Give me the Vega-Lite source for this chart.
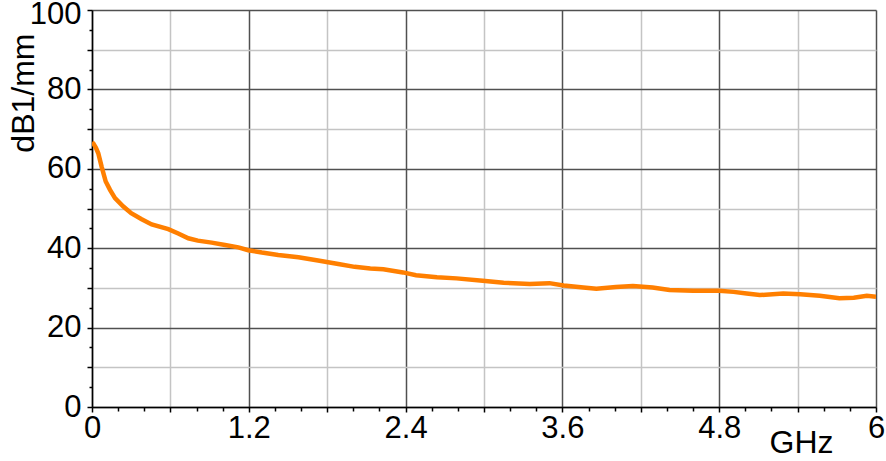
{
  "$schema": "https://vega.github.io/schema/vega-lite/v6.json",
  "width": 784,
  "height": 397,
  "autosize": {"type": "none"},
  "padding": {"left": 92, "top": 10, "right": 10, "bottom": 54},
  "background": "white",
  "config": {
    "view": {"stroke": null},
    "font": "Liberation Sans"
  },
  "data": {
    "values": [
      {"f": 0.0, "v": 66.6},
      {"f": 0.01, "v": 66.4},
      {"f": 0.03, "v": 65.3},
      {"f": 0.048, "v": 63.9},
      {"f": 0.074, "v": 60.5},
      {"f": 0.105, "v": 56.8},
      {"f": 0.138, "v": 54.7},
      {"f": 0.176, "v": 52.6},
      {"f": 0.24, "v": 50.5},
      {"f": 0.30, "v": 48.8},
      {"f": 0.38, "v": 47.3},
      {"f": 0.457, "v": 46.0},
      {"f": 0.584, "v": 44.8},
      {"f": 0.66, "v": 43.7},
      {"f": 0.737, "v": 42.5},
      {"f": 0.81, "v": 41.9},
      {"f": 0.916, "v": 41.4},
      {"f": 1.018, "v": 40.8},
      {"f": 1.12, "v": 40.2},
      {"f": 1.196, "v": 39.5},
      {"f": 1.30, "v": 38.9},
      {"f": 1.425, "v": 38.3},
      {"f": 1.58, "v": 37.7},
      {"f": 1.73, "v": 36.9},
      {"f": 1.885, "v": 36.0},
      {"f": 2.01, "v": 35.3},
      {"f": 2.13, "v": 34.9},
      {"f": 2.23, "v": 34.7},
      {"f": 2.38, "v": 33.9},
      {"f": 2.48, "v": 33.2},
      {"f": 2.64, "v": 32.7},
      {"f": 2.79, "v": 32.4},
      {"f": 2.99, "v": 31.8},
      {"f": 3.15, "v": 31.3},
      {"f": 3.35, "v": 31.0},
      {"f": 3.50, "v": 31.2},
      {"f": 3.61, "v": 30.6},
      {"f": 3.76, "v": 30.1},
      {"f": 3.86, "v": 29.8},
      {"f": 4.01, "v": 30.2},
      {"f": 4.14, "v": 30.5},
      {"f": 4.29, "v": 30.1},
      {"f": 4.42, "v": 29.5},
      {"f": 4.60, "v": 29.3},
      {"f": 4.80, "v": 29.3},
      {"f": 4.91, "v": 29.0},
      {"f": 5.01, "v": 28.6},
      {"f": 5.11, "v": 28.2},
      {"f": 5.29, "v": 28.6},
      {"f": 5.42, "v": 28.4},
      {"f": 5.57, "v": 28.0},
      {"f": 5.72, "v": 27.4},
      {"f": 5.83, "v": 27.5},
      {"f": 5.93, "v": 28.0},
      {"f": 6.0, "v": 27.8}
    ]
  },
  "mark": {"type": "line", "color": "#ff7f00", "strokeWidth": 4.5, "clip": true},
  "encoding": {
    "x": {
      "field": "f",
      "type": "quantitative",
      "scale": {"domain": [0, 6], "nice": false, "zero": false},
      "axis": {
        "title": "GHz",
        "titleFont": "Liberation Sans",
        "titleFontSize": 32,
        "titleFontWeight": "normal",
        "titleColor": "black",
        "titleX": 709,
        "titleY": 45,
        "titleAlign": "center",
        "titleBaseline": "alphabetic",
        "values": [0, 0.2, 0.4, 0.6, 0.8, 1.0, 1.2, 1.4, 1.6, 1.8, 2.0, 2.2, 2.4, 2.6, 2.8, 3.0, 3.2, 3.4, 3.6, 3.8, 4.0, 4.2, 4.4, 4.6, 4.8, 5.0, 5.2, 5.4, 5.6, 5.8, 6.0],
        "labelExpr": "abs(round(datum.value/1.2)*1.2 - datum.value) < 0.001 ? format(datum.value, '.1~f') : ''",
        "labelFont": "Liberation Sans",
        "labelFontSize": 31,
        "labelColor": "black",
        "labelPadding": 1,
        "labelOverlap": false,
        "labelFlush": false,
        "domainColor": "black",
        "domainWidth": 1.5,
        "tickColor": "black",
        "tickWidth": 1.5,
        "tickSize": {"condition": {"test": "abs(round(datum.value/0.6)*0.6 - datum.value) < 0.001", "value": 5}, "value": 4},
        "grid": true,
        "gridWidth": 1.5,
        "gridColor": {"condition": {"test": "abs(round(datum.value/1.2)*1.2 - datum.value) < 0.001", "value": "#505050"}, "value": "#c4c4c4"},
        "gridOpacity": {"condition": {"test": "abs(round(datum.value/0.6)*0.6 - datum.value) < 0.001", "value": 1}, "value": 0}
      }
    },
    "y": {
      "field": "v",
      "type": "quantitative",
      "scale": {"domain": [0, 100], "nice": false},
      "axis": {
        "title": "dB1/mm",
        "titleFont": "Liberation Sans",
        "titleFontSize": 32,
        "titleFontWeight": "normal",
        "titleColor": "black",
        "titleAngle": -90,
        "titleX": -59,
        "titleY": 23,
        "titleAlign": "right",
        "titleBaseline": "alphabetic",
        "values": [0, 5, 10, 15, 20, 25, 30, 35, 40, 45, 50, 55, 60, 65, 70, 75, 80, 85, 90, 95, 100],
        "labelExpr": "datum.value % 20 == 0 ? datum.label : ''",
        "labelFont": "Liberation Sans",
        "labelFontSize": 31,
        "labelColor": "black",
        "labelPadding": 6,
        "labelOffset": {"condition": {"test": "datum.value == 100", "value": 4}, "value": 0},
        "labelOverlap": false,
        "labelFlush": false,
        "domainColor": "black",
        "domainWidth": 1.5,
        "tickColor": "black",
        "tickWidth": 1.5,
        "tickSize": {"condition": {"test": "datum.value % 10 == 0", "value": 5}, "value": 3},
        "grid": true,
        "gridWidth": 1.5,
        "gridColor": {"condition": {"test": "datum.value % 20 == 0", "value": "#505050"}, "value": "#c4c4c4"},
        "gridOpacity": {"condition": {"test": "datum.value % 10 == 0", "value": 1}, "value": 0}
      }
    }
  }
}
